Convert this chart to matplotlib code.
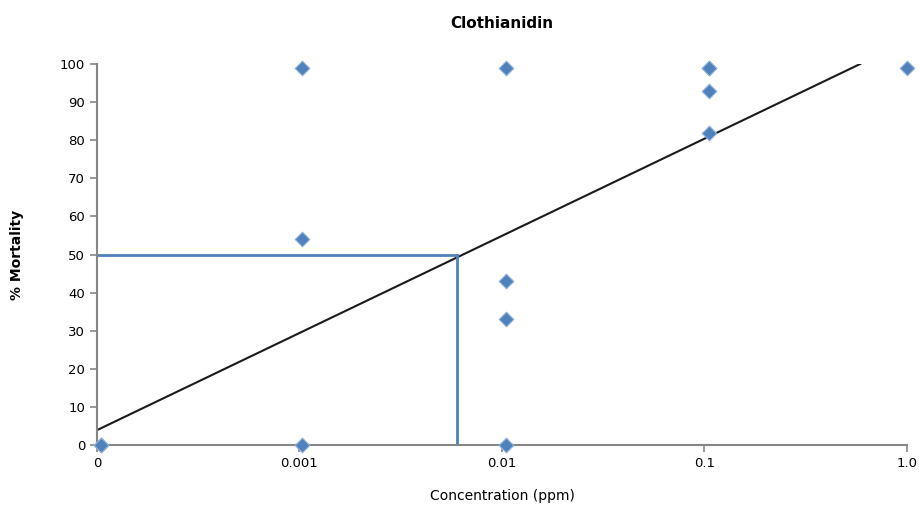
import matplotlib
matplotlib.use("Agg")
import matplotlib.pyplot as plt

# Data
conc_labels = ["0", "0.001", "0.01", "0.1", "1.0"]
# x position index (0..4) of each observation and its mortality
obs_pos = [0.02, 0.02, 1.01, 1.01, 1.01, 2.02, 2.02, 2.02, 2.02, 3.02, 3.02, 3.02, 3.02, 4.0]
obs_mort = [0, 0, 99, 54, 0, 99, 43, 33, 0, 99, 99, 93, 82, 99]

# linear trendline on the index scale
trend_intercept = 3.9
trend_slope = 25.5
lc50_pos = 1.78

fig = plt.figure(figsize=(9.2, 5.14), dpi=100)
ax = fig.add_axes([97 / 920, 1 - 445 / 514, 810 / 920, 381 / 514])

# trendline up to 100 %
x_end = (100 - trend_intercept) / trend_slope
ax.plot([0, x_end], [trend_intercept, trend_intercept + trend_slope * x_end],
        color="#1a1a1a", lw=1.5, zorder=2)

# LC50 guide lines
ax.plot([0, lc50_pos], [50, 50], color="#4F81BD", lw=2, zorder=2)
ax.plot([lc50_pos, lc50_pos], [0, 50], color="#4F81BD", lw=2, zorder=2)

ax.scatter(obs_pos, obs_mort, marker="D", s=55, color="#4F81BD",
           edgecolors="#8fb0d8", linewidths=0.8, zorder=3, clip_on=False)

ax.set_xlim(0, 4)
ax.set_ylim(0, 100)
ax.set_xticks(range(len(conc_labels)))
ax.set_xticklabels(conc_labels)
ax.set_yticks(range(0, 101, 10))

for s in ["top", "right"]:
    ax.spines[s].set_visible(False)
for s in ["left", "bottom"]:
    ax.spines[s].set_color("#868686")
    ax.spines[s].set_linewidth(1.5)
ax.tick_params(colors="#868686", labelcolor="black", labelsize=9.5,
               length=5, width=1.2)

ax.set_title("Clothianidin", fontsize=11, fontweight="bold", pad=26)
ax.set_xlabel("Concentration (ppm)", fontsize=10, labelpad=14)
ax.set_ylabel("% Mortality", fontsize=10, fontweight="bold", labelpad=26)

fig.savefig("out.png", dpi=100)
